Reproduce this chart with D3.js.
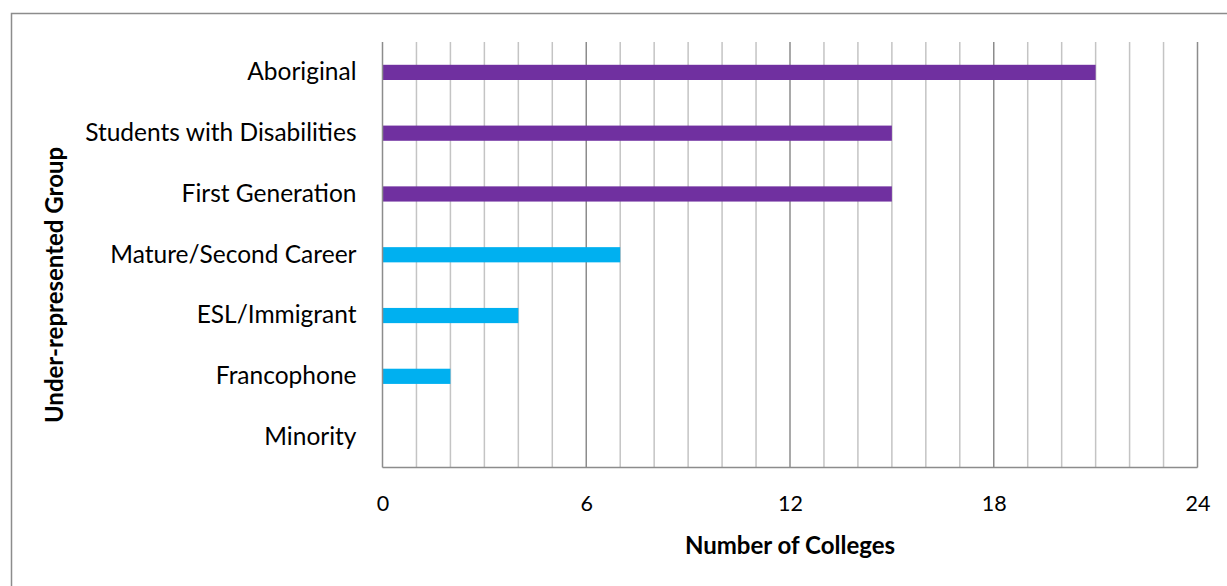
<!DOCTYPE html>
<html>
<head>
<meta charset="utf-8">
<script src="https://cdn.jsdelivr.net/npm/d3@7"></script>
<style>
  html, body { margin: 0; padding: 0; background: #fff; }
  svg { display: block; font-family: Lato, "Open Sans", sans-serif; }
</style>
</head>
<body>
<svg id="chart" width="1227" height="586"></svg>
<script>
// Colleges reporting targeted supports, by under-represented group
const groups = ["Aboriginal", "Students with Disabilities", "First Generation",
                "Mature/Second Career", "ESL/Immigrant", "Francophone", "Minority"];
const colleges = [21, 15, 15, 7, 4, 2, 0];
const barColors = ["#7030A0", "#7030A0", "#7030A0", "#00B0F0", "#00B0F0", "#00B0F0", "#00B0F0"];
const tickValues = [0, 6, 12, 18, 24];
const xTitle = "Number of Colleges";
const yTitle = "Under-represented Group";

const FONT = "Lato, 'Open Sans', sans-serif";
const svg = d3.select("#chart");
const plot = { left: 382.5, right: 1197.5, top: 42, bottom: 467.5 };

// chart frame
svg.append("rect")
  .attr("x", 11.5).attr("y", 13.5)
  .attr("width", 1240).attr("height", 600)
  .attr("fill", "none").attr("stroke", "#8c8c8c").attr("stroke-width", 1.5);

const x = d3.scaleLinear().domain([0, 24]).range([plot.left, plot.right]);
const y = d3.scaleBand().domain(groups).range([plot.top, plot.bottom]).paddingInner(0.75).paddingOuter(0.375);

// gridlines: one per college, heavier at labelled ticks
const gridVals = d3.range(1, 25);
svg.append("g").selectAll("line").data(gridVals).join("line")
  .attr("x1", d => x(d)).attr("x2", d => x(d))
  .attr("y1", plot.top).attr("y2", plot.bottom)
  .attr("stroke", d => d % 6 === 0 ? "#8c8c8c" : "#c4c4c4")
  .attr("stroke-width", 1.5);

// bars
svg.append("g").selectAll("rect").data(groups).join("rect")
  .attr("x", x(0))
  .attr("y", d => y(d))
  .attr("width", (d, i) => x(colleges[i]) - x(0))
  .attr("height", y.bandwidth())
  .attr("fill", (d, i) => barColors[i]);

// axis lines
svg.append("line")
  .attr("x1", x(0)).attr("x2", x(0)).attr("y1", plot.top).attr("y2", plot.bottom)
  .attr("stroke", "#8c8c8c").attr("stroke-width", 1.5);
svg.append("line")
  .attr("x1", x(0)).attr("x2", x(24)).attr("y1", plot.bottom).attr("y2", plot.bottom)
  .attr("stroke", "#8c8c8c").attr("stroke-width", 1.5);

// x tick labels
const xAxis = d3.axisBottom(x).tickValues(tickValues).tickSize(0).tickPadding(0);
const gx = svg.append("g").attr("transform", `translate(0,${plot.bottom + 36})`).call(xAxis);
gx.select(".domain").remove();
gx.selectAll("text").attr("font-size", 21.5).attr("fill", "#000")
  .attr("font-family", FONT).attr("dy", "0.35em");

// category labels
const yAxis = d3.axisLeft(y).tickSize(0).tickPadding(26);
const gy = svg.append("g").attr("transform", `translate(${plot.left},0)`).call(yAxis);
gy.select(".domain").remove();
gy.selectAll("text").attr("font-size", 24.5).attr("fill", "#000")
  .attr("font-family", FONT);

// axis titles
svg.append("text")
  .attr("x", (plot.left + plot.right) / 2).attr("y", 544)
  .attr("text-anchor", "middle").attr("dominant-baseline", "central")
  .attr("font-family", FONT)
  .attr("font-size", 24).attr("font-weight", "bold").text(xTitle);

svg.append("text")
  .attr("transform", "translate(53,285) rotate(-90)")
  .attr("text-anchor", "middle").attr("dominant-baseline", "central")
  .attr("font-family", FONT)
  .attr("font-size", 24).attr("font-weight", "bold").text(yTitle);
</script>
</body>
</html>
